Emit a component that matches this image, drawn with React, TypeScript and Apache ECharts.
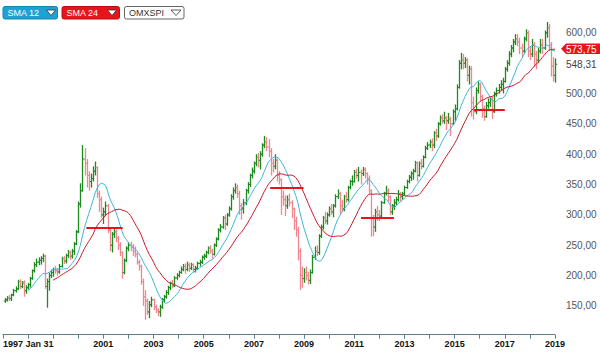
import React, { useEffect, useRef } from 'react';
import * as echarts from 'echarts';

const startYear = 1997;
const firstOpen = 158;

const closes = [
  160, 163, 162, 168, 175, 178, 190, 182, 188, 175, 180, 185,
  195, 208, 218, 222, 225, 228, 232, 182, 190, 200, 205, 210,
  208, 206, 215, 228, 224, 233, 238, 232, 240, 252, 272, 318,
  340, 392, 385, 365, 355, 360, 372, 378, 335, 325, 300, 305,
  315, 275, 250, 268, 272, 262, 250, 238, 205, 225, 245, 250,
  248, 240, 235, 222, 215, 190, 165, 158, 140, 152, 160, 148,
  143, 140, 148, 160, 165, 172, 180, 188, 183, 196, 200, 205,
  210, 215, 210, 218, 212, 218, 210, 212, 220, 222, 230, 232,
  238, 245, 240, 235, 250, 260, 275, 280, 295, 285, 300, 310,
  330, 340, 345, 335, 315, 310, 320, 340, 350, 365, 372, 385,
  395, 390, 400, 415, 420, 412, 405, 385, 380, 390, 365, 358,
  330, 325, 315, 325, 320, 310, 290, 275, 240, 200, 195, 205,
  200, 192, 205, 230, 240, 238, 265, 280, 295, 290, 300, 310,
  305, 315, 330, 335, 315, 310, 330, 325, 345, 355, 355, 370,
  365, 370, 368, 375, 368, 360, 340, 295, 280, 305, 300, 298,
  320, 335, 340, 330, 305, 315, 320, 325, 335, 330, 335, 345,
  355, 362, 368, 372, 385, 365, 385, 380, 395, 410, 415, 420,
  415, 435, 430, 450, 460, 455, 460, 455, 458, 450, 470, 475,
  510, 550, 555, 550, 555, 530, 540, 485, 470, 505, 515, 495,
  475, 462, 480, 485, 490, 470, 500, 505, 510, 515, 520, 540,
  550, 565, 575, 585, 590, 585, 575, 570, 590, 600, 570, 565,
  580, 565, 555, 570, 580, 575, 600, 608, 580, 545, 530, 548.31,
];

const highs = [
  163, 166, 168, 170, 178, 182, 193, 194, 191, 192, 184, 188,
  198, 210, 222, 228, 230, 232, 236, 234, 195, 205, 210, 213,
  216, 212, 219, 231, 232, 236, 242, 241, 244, 255, 275, 322,
  352, 415, 410, 392, 372, 368, 380, 388, 380, 340, 330, 312,
  322, 318, 280, 272, 280, 276, 265, 255, 240, 228, 248, 255,
  256, 252, 248, 238, 226, 218, 195, 176, 162, 158, 165, 162,
  152, 146, 152, 163, 168, 176, 183, 190, 193, 199, 204, 208,
  215, 219, 220, 223, 221, 221, 220, 216, 223, 226, 233, 236,
  241, 248, 250, 244, 253, 263, 278, 285, 298, 300, 303, 314,
  334, 345, 352, 350, 340, 320, 326, 343, 354, 368, 378, 388,
  400, 402, 405, 418, 430, 428, 425, 410, 392, 400, 393, 372,
  360, 340, 332, 332, 335, 324, 312, 297, 280, 245, 215, 212,
  215, 206, 210, 234, 248, 250, 268, 284, 298, 305, 304, 314,
  318, 318, 334, 342, 338, 325, 333, 338, 348, 358, 365, 374,
  376, 379, 375, 379, 378, 370, 365, 342, 300, 310, 315, 308,
  323, 338, 348, 344, 332, 318, 326, 330, 341, 338, 338, 348,
  358, 366, 372, 376, 389, 388, 388, 392, 398, 414, 420, 424,
  426, 438, 442, 453, 464, 466, 470, 463, 468, 462, 474, 482,
  515, 555, 567, 565, 560, 558, 546, 545, 495, 510, 520, 518,
  498, 480, 486, 492, 495, 495, 503, 510, 516, 522, 526, 544,
  555, 570, 580, 590, 598, 598, 592, 582, 594, 606, 604, 578,
  590, 585, 570, 575, 590, 590, 604, 618, 615, 585, 560, 558,
];

const lows = [
  155, 157, 158, 158, 166, 172, 176, 178, 179, 165, 170, 177,
  180, 193, 205, 214, 217, 218, 222, 178, 147, 175, 196, 198,
  203, 200, 203, 213, 219, 220, 229, 226, 228, 234, 250, 270,
  312, 338, 365, 345, 340, 345, 355, 365, 328, 305, 295, 285,
  298, 270, 240, 238, 262, 255, 242, 232, 195, 202, 222, 240,
  240, 232, 230, 218, 208, 185, 150, 127, 135, 130, 148, 143,
  138, 133, 132, 145, 156, 162, 168, 176, 179, 181, 193, 197,
  203, 207, 203, 207, 206, 209, 205, 205, 209, 215, 219, 226,
  229, 235, 236, 228, 233, 247, 258, 271, 277, 275, 282, 297,
  307, 325, 335, 328, 300, 292, 302, 316, 335, 346, 360, 368,
  380, 378, 375, 396, 410, 405, 395, 365, 370, 375, 355, 350,
  300, 315, 298, 310, 314, 295, 275, 264, 225, 176, 180, 188,
  192, 185, 186, 203, 226, 232, 234, 262, 276, 285, 284, 297,
  300, 296, 312, 326, 300, 305, 306, 320, 322, 342, 348, 353,
  360, 355, 350, 364, 360, 350, 335, 264, 265, 272, 290, 290,
  296, 318, 332, 322, 300, 300, 308, 316, 322, 322, 325, 332,
  343, 352, 356, 358, 370, 355, 363, 375, 378, 393, 407, 410,
  405, 410, 422, 427, 447, 450, 450, 440, 450, 430, 448, 455,
  472, 508, 540, 540, 542, 520, 515, 462, 457, 466, 500, 488,
  460, 455, 460, 475, 478, 458, 468, 495, 500, 505, 500, 518,
  536, 546, 560, 568, 580, 578, 565, 560, 566, 586, 560, 555,
  560, 545, 540, 550, 566, 565, 572, 592, 570, 528, 520, 518,
];

// [fromYear, toYear, level]
const supportLines = [
  [2000.32, 2001.77, 278],
  [2007.65, 2008.98, 344],
  [2011.27, 2012.58, 296],
  [2015.76, 2017.0, 473],
  [2018.42, 2019.66, 564],
];

const smaShort = 12;
const smaLong = 24;
const sma24LastLabel = 573.75;
const lastCloseLabel = 548.31;
const legendNames = ['SMA 12', 'SMA 24', 'OMXSPI'];
const firstDateLabel = '1997 Jan 31';

const FONT = '"Liberation Sans", Arial, Helvetica, sans-serif';
const GREEN = '#1b8a1f';
const PINK = '#ee8790';
const CYAN = '#3db6dc';
const DARKRED = '#c81a2c';
const RED = '#e8141c';

function sma(values: number[], n: number, xs: number[]) {
  const out: number[][] = [];
  for (let i = n - 1; i < values.length; i++) {
    let s = 0;
    for (let k = i - n + 1; k <= i; k++) s += values[k];
    out.push([xs[i], s / n]);
  }
  return out;
}

const fmt = (v: number) => v.toFixed(2).replace('.', ',');

export default function App() {
  const ref = useRef<HTMLDivElement>(null);
  useEffect(() => {
    document.body.style.margin = '0';
    const chart = echarts.init(ref.current!, null, { renderer: 'svg' });
    const xs = closes.map((_, i) => startYear + (i + 1) / 12);
    const opens = closes.map((_, i) => (i === 0 ? firstOpen : closes[i - 1]));
    const ohlc = closes.map((c, i) => [xs[i], opens[i], highs[i], lows[i], c]);

    const option: any = {
      animation: false,
      textStyle: { fontFamily: FONT },
      grid: { left: 0, right: 45, top: 17.7, bottom: 15.8 },
      xAxis: {
        type: 'value',
        min: 1997,
        max: 2019,
        interval: 1,
        offset: -1.5,
        splitLine: { show: false },
        axisLine: { show: true, lineStyle: { color: '#5f7f8c', width: 1 } },
        axisTick: { show: true, length: 4, lineStyle: { color: '#5f7f8c' } },
        axisLabel: {
          margin: 5,
          fontSize: 9,
          fontWeight: 'bold',
          color: '#111',
          fontFamily: FONT,
          alignMinLabel: 'left',
          showMaxLabel: true,
          formatter: (v: number) => {
            const y = Math.round(v);
            if (y === 1997) return firstDateLabel;
            if (y >= 2001 && y % 2 === 1) return String(y);
            return '';
          },
        },
      },
      yAxis: {
        type: 'value',
        position: 'right',
        min: 100,
        max: 625,
        interval: 50,
        splitLine: { show: false },
        axisLine: { show: false },
        axisTick: { show: false },
        axisLabel: {
          margin: 11,
          fontSize: 10,
          color: '#555',
          fontFamily: FONT,
          showMinLabel: false,
          showMaxLabel: false,
          formatter: (v: number) => (Math.abs(v - lastCloseLabel) < 12 ? '' : fmt(v)),
        },
      },
      series: [
        {
          type: 'custom',
          name: legendNames[2],
          data: ohlc,
          encode: { x: 0, y: [1, 2, 3, 4] },
          silent: true,
          renderItem: (params: any, api: any) => {
            const x = api.value(0);
            const o = api.value(1);
            const h = api.value(2);
            const l = api.value(3);
            const c = api.value(4);
            const pH = api.coord([x, h]);
            const pL = api.coord([x, l]);
            const pO = api.coord([x, o]);
            const pC = api.coord([x, c]);
            const px = Math.round(pH[0]) + 0.5;
            const color = c >= o ? GREEN : PINK;
            const st = { stroke: color, lineWidth: 1.3 };
            const st2 = { stroke: color, lineWidth: 1 };
            return {
              type: 'group',
              children: [
                { type: 'line', shape: { x1: px, y1: pH[1], x2: px, y2: pL[1] }, style: st },
                { type: 'line', shape: { x1: px - 1.8, y1: pO[1], x2: px, y2: pO[1] }, style: st2 },
                { type: 'line', shape: { x1: px, y1: pC[1], x2: px + 1.8, y2: pC[1] }, style: st2 },
              ],
            };
          },
        },
        {
          type: 'line',
          name: legendNames[0],
          data: sma(closes, smaShort, xs),
          showSymbol: false,
          silent: true,
          lineStyle: { color: CYAN, width: 1 },
          itemStyle: { color: CYAN },
        },
        {
          type: 'line',
          name: legendNames[1],
          data: sma(closes, smaLong, xs),
          showSymbol: false,
          silent: true,
          clip: false,
          lineStyle: { color: DARKRED, width: 1 },
          itemStyle: { color: DARKRED },
          markLine: {
            silent: true,
            symbol: ['none', 'none'],
            label: { show: false },
            lineStyle: { color: RED, width: 2, type: 'solid' },
            emphasis: { disabled: true },
            data: supportLines.map(([x1, x2, y]) => [
              { coord: [x1, y] },
              { coord: [x2, y] },
            ]),
          },
        },
      ],
    };
    chart.setOption(option);

    const yTag = chart.convertToPixel({ yAxisIndex: 0 }, sma24LastLabel) as number;
    const yLast = chart.convertToPixel({ yAxisIndex: 0 }, lastCloseLabel) as number;

    const legendBox = (
      x: number,
      w: number,
      fill: string,
      stroke: string,
      textColor: string,
      text: string,
      triX: number,
      triW: number
    ) => ({
      type: 'group',
      children: [
        {
          type: 'rect',
          shape: { x: x, y: 6.5, width: w, height: 12.5, r: 2 },
          style: { fill, stroke, lineWidth: 1 },
        },
        {
          type: 'text',
          x: x + 4.5,
          y: 12.9,
          style: {
            text,
            fill: textColor,
            font: `9px ${FONT}`,
            verticalAlign: 'middle',
            align: 'left',
          },
        },
        {
          type: 'polygon',
          shape: { points: [[triX, 10], [triX + triW, 10], [triX + triW / 2, 15.5]] },
          style: { fill: '#fff', stroke: '#333', lineWidth: 0.8 },
        },
      ],
    });

    chart.setOption({
      graphic: [
        legendBox(3, 54.5, '#1ea2d4', '#1583ad', '#fff', legendNames[0], 46.5, 9),
        legendBox(62, 57.5, RED, '#b80c12', '#fff', legendNames[1], 107.5, 9),
        legendBox(124.5, 59.5, '#fff', '#666', '#333', legendNames[2], 171, 10),
        {
          type: 'polygon',
          shape: {
            points: [
              [561, yTag],
              [566, yTag - 5.3],
              [600, yTag - 5.3],
              [600, yTag + 5.3],
              [566, yTag + 5.3],
            ],
          },
          style: { fill: RED },
        },
        {
          type: 'text',
          x: 566,
          y: yTag + 0.5,
          style: {
            text: fmt(sma24LastLabel),
            fill: '#fff',
            font: `10px ${FONT}`,
            verticalAlign: 'middle',
            align: 'left',
          },
        },
        {
          type: 'text',
          x: 566,
          y: yLast,
          style: {
            text: fmt(lastCloseLabel),
            fill: '#444',
            font: `10px ${FONT}`,
            verticalAlign: 'middle',
            align: 'left',
          },
        },
      ],
    });

    return () => chart.dispose();
  }, []);
  return <div ref={ref} style={{ width: 600, height: 352 }} />;
}
